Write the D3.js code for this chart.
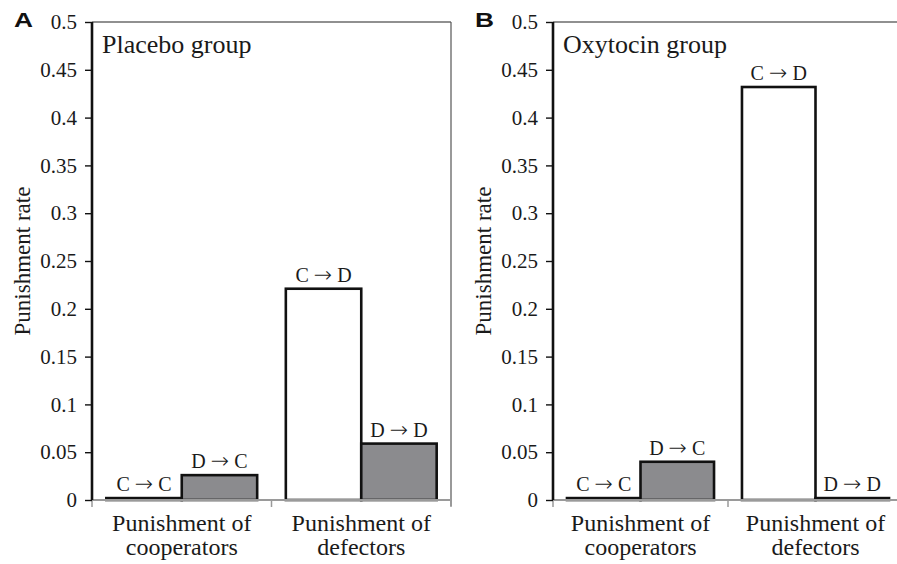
<!DOCTYPE html>
<html>
<head>
<meta charset="utf-8">
<script src="https://cdn.jsdelivr.net/npm/d3@7"></script>
<style>
  html, body { margin: 0; padding: 0; background: #fff; }
  svg { display: block; }
</style>
</head>
<body>
<svg id="chart" width="897" height="564"></svg>
<script>
// ---- data ----
const categories = ["Punishment of cooperators", "Punishment of defectors"];
const categoryLines = [["Punishment of", "cooperators"], ["Punishment of", "defectors"]];
const seriesKeys = ["first", "second"];
const barFrom = [["C", "D"], ["C", "D"]];
const barTo = [["C", "C"], ["D", "D"]];
const barFilled = [[false, true], [false, true]];
const placeboValues = [[0.002, 0.026], [0.221, 0.059]];
const oxytocinValues = [[0.002, 0.040], [0.432, 0.002]];
const yTicks = [0, 0.05, 0.1, 0.15, 0.2, 0.25, 0.3, 0.35, 0.4, 0.45, 0.5];
const yTickLabels = ["0", "0.05", "0.1", "0.15", "0.2", "0.25", "0.3", "0.35", "0.4", "0.45", "0.5"];
const panels = [
  { letter: "A", title: "Placebo group", values: placeboValues, x0: 92, x1: 451, rightBorder: true },
  { letter: "B", title: "Oxytocin group", values: oxytocinValues, x0: 553, x1: 903, rightBorder: false }
];
const yAxisTitle = "Punishment rate";

// ---- drawing ----
const SERIF = '"Liberation Serif", "Times New Roman", Times, serif';
const SANS = '"Liberation Sans", Arial, Helvetica, sans-serif';
const svg = d3.select("#chart");
const yTop = 22, yBottom = 500;
const y = d3.scaleLinear().domain([0, 0.5]).range([yBottom, yTop]);

function serifText(sel, size) {
  return sel.style("font-family", SERIF).style("font-size", size + "px").style("fill", "#1a1a1a");
}

panels.forEach(p => {
  const g = svg.append("g");
  const xCat = d3.scaleBand().domain(categories).range([p.x0, p.x1]).paddingInner(0).paddingOuter(0);
  const xSer = d3.scaleBand().domain(seriesKeys).range([0, xCat.bandwidth()]).paddingInner(0).paddingOuter(0.19);

  // top border
  g.append("line").attr("x1", p.x0).attr("x2", p.x1).attr("y1", yTop).attr("y2", yTop)
    .attr("stroke", "#222").attr("stroke-width", 1.2);
  if (p.rightBorder) {
    g.append("line").attr("x1", p.x1).attr("x2", p.x1).attr("y1", yTop).attr("y2", yBottom + 6)
      .attr("stroke", "#555").attr("stroke-width", 1.2);
  }

  // bars
  categories.forEach((c, ci) => {
    seriesKeys.forEach((s, si) => {
      const v = p.values[ci][si];
      const bx = xCat(c) + xSer(s);
      g.append("rect")
        .attr("x", bx).attr("y", y(v))
        .attr("width", xSer.bandwidth()).attr("height", y(0) - y(v))
        .attr("fill", barFilled[ci][si] ? "#8b8b8e" : "#ffffff")
        .attr("stroke", "#111").attr("stroke-width", 2.6);
      const t = serifText(g.append("text"), 20)
        .attr("x", bx + xSer.bandwidth() / 2).attr("y", y(v) - 7)
        .attr("text-anchor", "middle");
      t.append("tspan").text(barFrom[ci][si] + " ");
      t.append("tspan").style("font-family", '"DejaVu Sans", sans-serif').style("font-size", "22px")
        .style("font-weight", "200").text("\u2192");
      t.append("tspan").text(" " + barTo[ci][si]);
    });
  });

  // x axis (gray) drawn over bars
  g.append("line").attr("x1", p.x0).attr("x2", p.x1).attr("y1", yBottom).attr("y2", yBottom)
    .attr("stroke", "#9a9a9a").attr("stroke-width", 2);
  const bounds = [p.x0, ...categories.map(c => xCat(c) + xCat.bandwidth())];
  bounds.forEach(bx => {
    g.append("line").attr("x1", bx).attr("x2", bx).attr("y1", yBottom).attr("y2", yBottom + 7)
      .attr("stroke", "#9a9a9a").attr("stroke-width", 1.5);
  });
  categories.forEach((c, ci) => {
    const t = serifText(g.append("text"), 24).attr("text-anchor", "middle");
    categoryLines[ci].forEach((ln, li) => {
      t.append("tspan").attr("x", xCat(c) + xCat.bandwidth() / 2).attr("y", 531 + li * 24).text(ln);
    });
  });

  // y axis
  const yAxis = d3.axisLeft(y).tickValues(yTicks).tickFormat((d, i) => yTickLabels[i]).tickSize(7).tickPadding(8);
  const ya = g.append("g").attr("transform", `translate(${p.x0},0)`).call(yAxis);
  ya.select(".domain").attr("stroke", "#111").attr("stroke-width", 2.6).attr("d", `M0,${yTop}V${yBottom}`);
  ya.selectAll(".tick line").attr("stroke", "#111").attr("stroke-width", 1.4);
  serifText(ya.selectAll(".tick text"), 21);

  // axis title
  serifText(g.append("text"), 23)
    .attr("transform", `translate(${p.x0 - 62},${(yTop + yBottom) / 2}) rotate(-90)`)
    .attr("text-anchor", "middle")
    .text(yAxisTitle);

  // group title
  serifText(g.append("text"), 26).attr("x", p.x0 + 10).attr("y", 53).text(p.title);

  // panel letter
  g.append("text").attr("x", p.x0 - 78).attr("y", 27)
    .attr("textLength", 19).attr("lengthAdjust", "spacingAndGlyphs")
    .style("font-family", SANS).style("font-weight", "bold")
    .style("font-size", "20px").style("fill", "#111").text(p.letter);
});
</script>
</body>
</html>
